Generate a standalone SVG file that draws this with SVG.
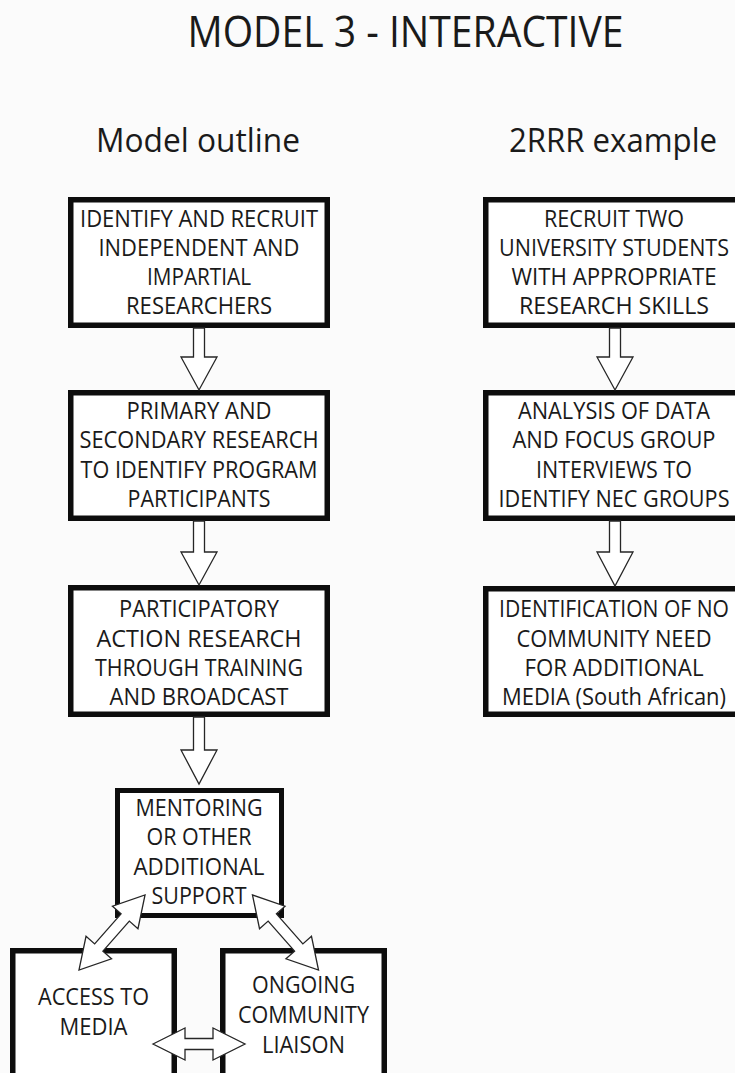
<svg xmlns="http://www.w3.org/2000/svg" width="735" height="1073" viewBox="0 0 735 1073">
<style>
text{font-family:"Open Sans","Liberation Sans",sans-serif;fill:#1a1a1a;text-anchor:middle}
.title{font-size:44px}
.head{font-size:33px}
.t{font-size:23.5px}
.box{fill:#ffffff;stroke:#0d0d0d;stroke-width:5.5}
.box5{fill:#ffffff;stroke:#0d0d0d;stroke-width:5}
.arr{fill:#ffffff;stroke:#262626;stroke-width:1.3;stroke-linejoin:miter}
</style>
<defs>
<polygon id="dbl" points="-50,0 -20,-17 -20,-5.5 20,-5.5 20,-17 50,0 20,17 20,5.5 -20,5.5 -20,17"/>
</defs>
<rect x="0" y="0" width="735" height="1073" fill="#fbfbfb"/>

<g id="headings">
<text class="title" x="405.5" y="47" textLength="436" lengthAdjust="spacingAndGlyphs">MODEL 3 - INTERACTIVE</text>
<text class="head" x="198" y="152" textLength="204" lengthAdjust="spacingAndGlyphs">Model outline</text>
<text class="head" x="613" y="152" textLength="208" lengthAdjust="spacingAndGlyphs">2RRR example</text>
</g>

<g id="L1">
<rect class="box" x="70.75" y="199.75" width="256.5" height="125.5"/>
<text class="t" x="199" y="227" textLength="238" lengthAdjust="spacingAndGlyphs">IDENTIFY AND RECRUIT</text>
<text class="t" x="199" y="256" textLength="201" lengthAdjust="spacingAndGlyphs">INDEPENDENT AND</text>
<text class="t" x="199" y="285" textLength="104" lengthAdjust="spacingAndGlyphs">IMPARTIAL</text>
<text class="t" x="199" y="314" textLength="146" lengthAdjust="spacingAndGlyphs">RESEARCHERS</text>
</g>

<g id="L2">
<rect class="box" x="70.75" y="392.75" width="256.5" height="125.5"/>
<text class="t" x="199" y="419" textLength="145" lengthAdjust="spacingAndGlyphs">PRIMARY AND</text>
<text class="t" x="199" y="448" textLength="239" lengthAdjust="spacingAndGlyphs">SECONDARY RESEARCH</text>
<text class="t" x="199" y="478" textLength="237" lengthAdjust="spacingAndGlyphs">TO IDENTIFY PROGRAM</text>
<text class="t" x="199" y="507" textLength="143" lengthAdjust="spacingAndGlyphs">PARTICIPANTS</text>
</g>

<g id="L3">
<rect class="box" x="70.75" y="587.75" width="256.5" height="126.5"/>
<text class="t" x="199" y="617" textLength="160" lengthAdjust="spacingAndGlyphs">PARTICIPATORY</text>
<text class="t" x="199" y="647" textLength="205" lengthAdjust="spacingAndGlyphs">ACTION RESEARCH</text>
<text class="t" x="199" y="676" textLength="208" lengthAdjust="spacingAndGlyphs">THROUGH TRAINING</text>
<text class="t" x="199" y="705" textLength="179" lengthAdjust="spacingAndGlyphs">AND BROADCAST</text>
</g>

<g id="mentoring">
<rect class="box5" x="117.5" y="790.5" width="164" height="125"/>
<text class="t" x="199" y="816" textLength="127" lengthAdjust="spacingAndGlyphs">MENTORING</text>
<text class="t" x="199" y="845" textLength="105" lengthAdjust="spacingAndGlyphs">OR OTHER</text>
<text class="t" x="199" y="875" textLength="131" lengthAdjust="spacingAndGlyphs">ADDITIONAL</text>
<text class="t" x="199" y="904" textLength="95" lengthAdjust="spacingAndGlyphs">SUPPORT</text>
</g>

<g id="access">
<rect class="box" x="12.75" y="950.75" width="161.5" height="200"/>
<text class="t" x="93.5" y="1005" textLength="111" lengthAdjust="spacingAndGlyphs">ACCESS TO</text>
<text class="t" x="93.5" y="1035" textLength="68" lengthAdjust="spacingAndGlyphs">MEDIA</text>
</g>

<g id="ongoing">
<rect class="box" x="222.75" y="950.75" width="161.5" height="200"/>
<text class="t" x="303.5" y="993" textLength="103" lengthAdjust="spacingAndGlyphs">ONGOING</text>
<text class="t" x="303.5" y="1023" textLength="131" lengthAdjust="spacingAndGlyphs">COMMUNITY</text>
<text class="t" x="303.5" y="1053" textLength="83" lengthAdjust="spacingAndGlyphs">LIAISON</text>
</g>

<g id="R1">
<rect class="box" x="485.75" y="199.75" width="258.5" height="125.5"/>
<text class="t" x="614" y="227" textLength="140" lengthAdjust="spacingAndGlyphs">RECRUIT TWO</text>
<text class="t" x="614" y="256" textLength="230" lengthAdjust="spacingAndGlyphs">UNIVERSITY STUDENTS</text>
<text class="t" x="614" y="285" textLength="205" lengthAdjust="spacingAndGlyphs">WITH APPROPRIATE</text>
<text class="t" x="614" y="314" textLength="190" lengthAdjust="spacingAndGlyphs">RESEARCH SKILLS</text>
</g>

<g id="R2">
<rect class="box" x="485.75" y="392.75" width="258.5" height="125.5"/>
<text class="t" x="614" y="419" textLength="192" lengthAdjust="spacingAndGlyphs">ANALYSIS OF DATA</text>
<text class="t" x="614" y="448" textLength="203" lengthAdjust="spacingAndGlyphs">AND FOCUS GROUP</text>
<text class="t" x="614" y="478" textLength="156" lengthAdjust="spacingAndGlyphs">INTERVIEWS TO</text>
<text class="t" x="614" y="507" textLength="231" lengthAdjust="spacingAndGlyphs">IDENTIFY NEC GROUPS</text>
</g>

<g id="R3">
<rect class="box" x="485.75" y="588.75" width="258.5" height="125.5"/>
<text class="t" x="614" y="617" textLength="230" lengthAdjust="spacingAndGlyphs">IDENTIFICATION OF NO</text>
<text class="t" x="614" y="647" textLength="195" lengthAdjust="spacingAndGlyphs">COMMUNITY NEED</text>
<text class="t" x="614" y="676" textLength="179" lengthAdjust="spacingAndGlyphs">FOR ADDITIONAL</text>
<text class="t" x="614" y="705" textLength="224" lengthAdjust="spacingAndGlyphs">MEDIA (South African)</text>
</g>

<g id="connectors">
<polygon class="arr" points="193.5,328 204.5,328 204.5,357 217,357 199,390 181,357 193.5,357"/>
<polygon class="arr" points="193.5,521 204.5,521 204.5,552 217,552 199,585 181,552 193.5,552"/>
<polygon class="arr" points="193.5,717 204.5,717 204.5,750 217,750 199,784 181,750 193.5,750"/>
<polygon class="arr" points="609.5,328 620.5,328 620.5,357 633,357 615,390 597,357 609.5,357"/>
<polygon class="arr" points="609.5,521 620.5,521 620.5,552 633,552 615,586 597,552 609.5,552"/>
<use href="#dbl" class="arr" transform="translate(112,932.5) rotate(-48.65)"/>
<use href="#dbl" class="arr" transform="translate(285.5,932.5) rotate(48.65)"/>
<polygon class="arr" points="153,1044 185,1028 185,1038.5 213,1038.5 213,1028 245,1044 213,1060 213,1049.5 185,1049.5 185,1060"/>
</g>
</svg>
